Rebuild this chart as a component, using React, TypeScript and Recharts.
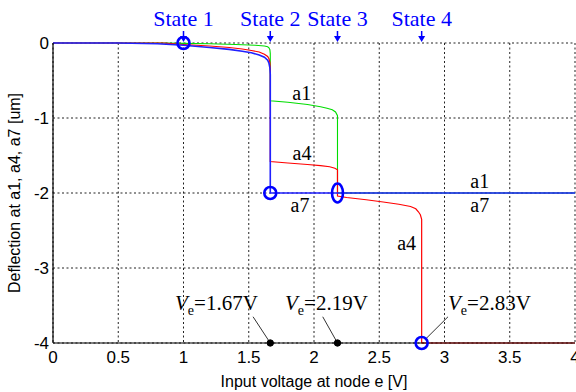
import React from 'react';
import {
  LineChart,
  Line,
  XAxis,
  YAxis,
  CartesianGrid,
  ReferenceDot,
  ReferenceLine,
  Label,
} from 'recharts';

// ---- data ----
const xTicks = [0, 0.5, 1, 1.5, 2, 2.5, 3, 3.5, 4];
const yTicks = [-4, -3, -2, -1, 0];

// a1 (green)
const a1X = [0, 0.85, 1.0, 1.2, 1.4, 1.55, 1.62, 1.645, 1.655, 1.662, 1.665, 1.665, 1.8, 1.95, 2.05, 2.1, 2.14, 2.165, 2.18, 2.18, 4];
const a1Y = [0, 0, -0.005, -0.01, -0.02, -0.03, -0.04, -0.05, -0.065, -0.09, -0.14, -0.77, -0.79, -0.82, -0.85, -0.87, -0.89, -0.92, -0.97, -2, -2];

// a4 (red)
const a4X = [0, 0.85, 1.0, 1.2, 1.35, 1.45, 1.52, 1.58, 1.62, 1.645, 1.655, 1.662, 1.665, 1.665, 1.8, 1.95, 2.05, 2.12, 2.16, 2.18, 2.18, 2.25, 2.4, 2.53, 2.65, 2.74, 2.78, 2.8, 2.815, 2.825, 2.825, 4];
const a4Y = [0, 0, -0.02, -0.04, -0.06, -0.08, -0.1, -0.12, -0.15, -0.18, -0.21, -0.26, -0.34, -1.58, -1.6, -1.62, -1.635, -1.65, -1.67, -1.69, -2.04, -2.06, -2.09, -2.12, -2.15, -2.18, -2.21, -2.25, -2.29, -2.35, -4, -4];

// a7 (blue)
const a7X = [0, 0.5, 0.8, 1.0, 1.2, 1.35, 1.45, 1.52, 1.58, 1.62, 1.645, 1.655, 1.662, 1.665, 1.665, 4];
const a7Y = [0, 0, -0.01, -0.03, -0.06, -0.085, -0.11, -0.13, -0.16, -0.19, -0.23, -0.27, -0.33, -0.42, -2, -2];

// states
const stateNames = ['State 1', 'State 2', 'State 3', 'State 4'];
const stateX = [1.0, 1.665, 2.18, 2.825];

// markers (blue open circles)
const circleX = [1.0, 1.665, 2.825];
const circleY = [0, -2, -4];
const ellipseX = 2.18;
const ellipseY = -2;

// Ve annotations
const veValues = ['1.67', '2.19', '2.83'];
const veDotX = [1.665, 2.18];
const veLabelX = [0.935, 1.778, 3.027];
const veLabelY = -3.56;
const veLeaderFrom = [
  { x: 1.533, y: -3.65 },
  { x: 2.067, y: -3.65 },
  { x: 3.027, y: -3.65 },
];
const veLeaderTo = [
  { x: 1.665, y: -4 },
  { x: 2.18, y: -4 },
  { x: 2.857, y: -3.944 },
];

// curve labels
const curveLabelText = ['a1', 'a4', 'a7', 'a1', 'a7', 'a4'];
const curveLabelX = [1.906, 1.908, 1.893, 3.27, 3.27, 2.71];
const curveLabelY = [-0.76, -1.56, -2.25, -1.93, -2.25, -2.76];

const toPts = (xs: number[], ys: number[]) => xs.map((x, i) => ({ x, y: ys[i] }));
const a1Data = toPts(a1X, a1Y);
const a4Data = toPts(a4X, a4Y);
const a7Data = toPts(a7X, a7Y);

const SERIF = '"Liberation Serif", "Times New Roman", serif';
const SANS = '"Liberation Sans", Arial, sans-serif';
const BLUE = '#0000ff';

export default function App() {
  return (
    <div style={{ position: 'absolute', left: 0, top: 0, width: 576, height: 392, background: '#fff' }}>
      <LineChart width={576} height={392} margin={{ top: 43, right: 1, bottom: 0, left: 0 }}>
        <CartesianGrid stroke="#222" strokeDasharray="2 2.5" strokeWidth={1} />
        <XAxis
          type="number"
          dataKey="x"
          domain={[0, 4]}
          ticks={xTicks}
          height={49}
          tickSize={6}
          tickMargin={2}
          tickLine={false}
          axisLine={{ stroke: '#000', strokeWidth: 1.2 }}
          tick={{ fill: '#000', fontSize: 17, fontFamily: SANS }}
          interval={0}
          allowDuplicatedCategory
        >
          <Label
            content={(props: any) => {
              const vb = props.viewBox || { x: 53, y: 343, width: 522, height: 49 };
              return (
                <text x={vb.x + vb.width / 2} y={vb.y + 44} textAnchor="middle" fontSize={16} fontFamily={SANS} fill="#000">
                  Input voltage at node e [V]
                </text>
              );
            }}
          />
        </XAxis>
        <YAxis
          type="number"
          domain={[-4, 0]}
          ticks={yTicks}
          width={53}
          tickSize={2}
          tickMargin={2}
          tickLine={false}
          axisLine={{ stroke: '#000', strokeWidth: 1.2 }}
          tick={{ fill: '#000', fontSize: 17, fontFamily: SANS }}
          interval={0}
        >
          <Label
            content={(props: any) => {
              const vb = props.viewBox || { x: 0, y: 43, width: 53, height: 300 };
              const cx = vb.x + 14;
              const cy = vb.y + vb.height / 2;
              return (
                <text
                  x={cx}
                  y={cy}
                  transform={`rotate(-90, ${cx}, ${cy})`}
                  textAnchor="middle"
                  dominantBaseline="central"
                  fontSize={16}
                  fontFamily={SANS}
                  fill="#000"
                >
                  Deflection at a1, a4, a7 [um]
                </text>
              );
            }}
          />
        </YAxis>

        <Line data={a1Data} dataKey="y" type="linear" stroke="#00dd00" strokeWidth={1.1} dot={false} activeDot={false} isAnimationActive={false} />
        <Line data={a4Data} dataKey="y" type="linear" stroke="#ff0000" strokeWidth={1.2} dot={false} activeDot={false} isAnimationActive={false} />
        <Line data={a7Data} dataKey="y" type="linear" stroke="#2020ff" strokeWidth={1.6} dot={false} activeDot={false} isAnimationActive={false} />

        {veLeaderFrom.map((p, i) => (
          <ReferenceLine
            key={'lead' + i}
            segment={[p, veLeaderTo[i]]}
            stroke="#333"
            strokeWidth={1}
            ifOverflow="visible"
          />
        ))}

        {veDotX.map((x, i) => (
          <ReferenceDot key={'vd' + i} x={x} y={-4} r={3.2} fill="#000" stroke="#000" ifOverflow="visible" />
        ))}

        {circleX.map((x, i) => (
          <ReferenceDot
            key={'c' + i}
            x={x}
            y={circleY[i]}
            r={6}
            fill="none"
            stroke={BLUE}
            strokeWidth={2.6}
            ifOverflow="visible"
          />
        ))}
        <ReferenceDot
          x={ellipseX}
          y={ellipseY}
          r={5}
          ifOverflow="visible"
          shape={(p: any) => (
            <ellipse cx={p.cx} cy={p.cy} rx={5.5} ry={9.5} fill="none" stroke={BLUE} strokeWidth={2.6} />
          )}
        />

        {stateNames.map((name, i) => (
          <ReferenceDot
            key={'st' + i}
            x={stateX[i]}
            y={0}
            r={0}
            ifOverflow="visible"
            shape={(p: any) => (
              <g>
                <line x1={p.cx} y1={p.cy - 12} x2={p.cx} y2={p.cy - 4} stroke={BLUE} strokeWidth={1.5} />
                <path d={`M${p.cx - 3.5},${p.cy - 7} L${p.cx + 3.5},${p.cy - 7} L${p.cx},${p.cy - 1} Z`} fill={BLUE} />
                <text x={p.cx} y={p.cy - 17} textAnchor="middle" fontSize={22} fontFamily={SERIF} fill={BLUE}>
                  {name}
                </text>
              </g>
            )}
          />
        ))}

        {curveLabelText.map((t, i) => (
          <ReferenceDot
            key={'cl' + i}
            x={curveLabelX[i]}
            y={curveLabelY[i]}
            r={0}
            ifOverflow="visible"
            shape={(p: any) => (
              <text x={p.cx} y={p.cy} textAnchor="middle" fontSize={20} fontFamily={SERIF} fill="#000">
                {t}
              </text>
            )}
          />
        ))}

        {veValues.map((v, i) => (
          <ReferenceDot
            key={'ve' + i}
            x={veLabelX[i]}
            y={veLabelY}
            r={0}
            ifOverflow="visible"
            shape={(p: any) => (
              <text x={p.cx} y={p.cy} textAnchor="start" fontSize={21} fontFamily={SERIF} fill="#000">
                <tspan fontStyle="italic">V</tspan>
                <tspan fontSize={14} dy={5}>e</tspan>
                <tspan dy={-5}>{'=' + v + 'V'}</tspan>
              </text>
            )}
          />
        ))}
      </LineChart>
    </div>
  );
}
